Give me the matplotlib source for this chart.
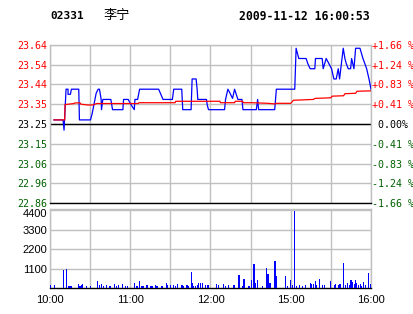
import matplotlib
matplotlib.use("Agg")
import matplotlib.pyplot as plt
from matplotlib.transforms import ScaledTranslation

CODE = "02331"
NAME = "李宁"
STAMP = "2009-11-12 16:00:53"

PREV_CLOSE = 23.25
pct_steps = [-1.66, -1.245, -0.83, -0.415, 0.0, 0.415, 0.83, 1.245, 1.66]
price_labels = ["22.86", "22.96", "23.06", "23.15", "23.25", "23.35", "23.44", "23.54", "23.64"]
pct_labels = ["-1.66 %", "-1.24 %", "-0.83 %", "-0.41 %", " 0.00%", "+0.41 %", "+0.83 %", "+1.24 %", "+1.66 %"]

# trading minutes from 10:00 (morning 10:00-12:30, afternoon 14:30-16:00)
time_ticks = [0, 60, 120, 180, 240]
time_labels = ["10:00", "11:00", "12:00", "15:00", "16:00"]

price_min = [3, 9.75, 10.5, 11.25, 12, 13.5, 13.5, 15.25, 16, 21.5, 22, 30.25, 31.5, 33, 34.5, 36, 37,
             38.25, 38.5, 39.5, 45.5, 46.75, 54.5, 55, 58.5, 60.5, 63, 63.5, 65.5, 67, 81.25, 84.5, 91.5,
             92.5, 98.5, 99.25, 105.5, 106.25, 109.25, 110, 110.5, 117, 117.5, 118.5, 130.5, 131.25, 133,
             134.25, 136.5, 138, 140.5, 143.5, 144.25, 154.25, 155.25, 156, 168, 169.25, 183, 184, 186,
             191.5, 192.75, 194.5, 198, 198.5, 203.5, 204.25, 206.5, 208.5, 210.5, 212.25, 214, 215.5,
             216.5, 219.25, 220.5, 221.5, 223, 224.75, 225.5, 227.25, 228.5, 231.75, 234, 236.75, 238.5, 240]
price_val = [23.27, 23.27, 23.22, 23.32, 23.42, 23.42, 23.395, 23.395, 23.42, 23.42, 23.27, 23.27, 23.30,
             23.35, 23.40, 23.42, 23.42, 23.37, 23.32, 23.37, 23.37, 23.32, 23.32, 23.37, 23.37, 23.345,
             23.32, 23.37, 23.37, 23.42, 23.42, 23.37, 23.37, 23.42, 23.42, 23.32, 23.32, 23.47, 23.47,
             23.42, 23.37, 23.37, 23.345, 23.32, 23.32, 23.37, 23.42, 23.405, 23.375, 23.42, 23.37, 23.37,
             23.32, 23.32, 23.37, 23.32, 23.32, 23.42, 23.42, 23.62, 23.57, 23.57, 23.545, 23.52, 23.52,
             23.57, 23.57, 23.52, 23.57, 23.545, 23.52, 23.47, 23.47, 23.52, 23.47, 23.62, 23.57, 23.545,
             23.52, 23.52, 23.57, 23.52, 23.62, 23.62, 23.57, 23.52, 23.47, 23.42]

avg_min = [3, 11, 11.25, 18, 18.5, 22.5, 23, 28, 32, 35, 66, 66.5, 93.5, 94, 127, 127.5, 138, 138.5, 144,
           144.5, 151, 163, 168.5, 169, 180, 182, 197, 198, 210, 211, 219.5, 220.5, 228.5, 229.5, 240]
avg_val = [23.27, 23.27, 23.345, 23.35, 23.353, 23.353, 23.347, 23.343, 23.343, 23.35, 23.35, 23.354,
           23.354, 23.361, 23.361, 23.354, 23.354, 23.361, 23.361, 23.354, 23.354, 23.351, 23.348, 23.351,
           23.351, 23.366, 23.37, 23.375, 23.378, 23.386, 23.388, 23.398, 23.40, 23.41, 23.412]

vol_min = [0, 3.25, 10, 12.5, 13.75, 15, 15.75, 21.25, 22.5, 23.75, 24.5, 27.5, 30, 35.5, 37, 38.75, 40,
           42.5, 44.25, 45.5, 48, 49.5, 51.25, 54.5, 56.25, 58, 63, 65, 66.75, 68.75, 70, 72.5, 75, 76.25,
           78.75, 80, 83.75, 87, 88, 90, 92.5, 93.75, 95.5, 98.75, 100, 102.5, 103.75, 105.5, 106.25,
           107.5, 108.75, 110, 111.25, 112.5, 113.75, 116.25, 117.5, 118.75, 124.25, 126.25, 130, 131.25,
           133.5, 137.5, 141.25, 143.75, 145, 148.75, 150.75, 152.5, 153.75, 155, 158.75, 162, 163, 164.5,
           168.25, 169.25, 176.25, 177.5, 180, 181.25, 183, 184.5, 186.25, 188.75, 191.25, 194.5, 195.5,
           197, 198.25, 199.5, 201.75, 203.75, 205.5, 210, 212.5, 213.75, 215.5, 216.75, 219.25, 220.75,
           222.5, 223.75, 225, 226.25, 227.5, 228.25, 229.25, 230.5, 232, 233, 234.5, 235.75, 238, 239.5, 240]
vol_val = [170, 170, 1030, 1080, 110, 110, 110, 230, 110, 170, 230, 110, 110, 400, 170, 230, 110,
           170, 110, 110, 230, 110, 170, 230, 110, 110, 270, 110, 400, 110, 110, 170, 110, 110,
           170, 110, 110, 300, 170, 170, 170, 110, 230, 170, 110, 170, 110, 910, 300,
           110, 110, 170, 270, 270, 300, 170, 170, 170, 230, 170, 230, 110,
           170, 170, 740, 110, 500, 110, 460, 1370, 300, 460, 110, 1120, 780, 300,
           1540, 680, 680, 110, 460, 170, 4330, 110, 170, 110, 170, 300, 230,
           230, 420, 170, 510, 170, 170, 400, 170, 230, 170, 230, 1440, 170,
           300, 170, 460, 360, 230, 460, 300, 170, 230, 110, 360, 170, 870, 170, 230]

RED = "#ff0000"
GREEN = "#006000"
GRID = "#c0c0c0"
MONO = "DejaVu Sans Mono"


def label_color(p):
    if p > 0:
        return RED
    if p < 0:
        return GREEN
    return "black"


def style_frame(ax):
    for side in ("left", "right", "top"):
        ax.spines[side].set_color(GRID)
        ax.spines[side].set_linewidth(1)
    ax.spines["bottom"].set_color("black")
    ax.spines["bottom"].set_linewidth(1)
    ax.set_xlim(0, 240)
    ax.set_xticks(range(0, 241, 30))
    ax.grid(True, color=GRID, linewidth=1)
    ax.set_axisbelow(True)
    ax.tick_params(length=0)


def main():
    fig = plt.figure(figsize=(4.14, 3.14), dpi=100)
    ax = fig.add_axes([50 / 414, 1 - 203 / 314, 321 / 414, 158 / 314])
    axv = fig.add_axes([50 / 414, 1 - 288 / 314, 321 / 414, 79 / 314])

    levels = [PREV_CLOSE * (1 + p / 100) for p in pct_steps]

    style_frame(ax)
    ax.set_ylim(levels[0], levels[-1])
    ax.set_yticks(levels)
    ax.set_yticklabels(price_labels, fontfamily=MONO, fontsize=7.2)
    ax.set_xticklabels([])
    for lab, p in zip(ax.get_yticklabels(), pct_steps):
        lab.set_color(label_color(p))
    ax.tick_params(axis="y", pad=2)
    ax.axhline(PREV_CLOSE, color="black", linewidth=1, zorder=2)

    ax.plot(price_min, price_val, color="#0000ff", linewidth=0.9, zorder=3)
    ax.plot(avg_min, avg_val, color=RED, linewidth=0.9, zorder=4)

    ax2 = ax.twinx()
    ax2.set_ylim(levels[0], levels[-1])
    ax2.set_yticks(levels)
    ax2.set_yticklabels(pct_labels, fontfamily=MONO, fontsize=7.2)
    for lab, p in zip(ax2.get_yticklabels(), pct_steps):
        lab.set_color(label_color(p))
    ax2.tick_params(length=0, pad=1)
    for s in ax2.spines.values():
        s.set_visible(False)

    style_frame(axv)
    axv.bar(vol_min, vol_val, width=0.9, color="#0000ff", linewidth=0, zorder=3)
    axv.set_ylim(0, 4470)
    axv.set_yticks([1100, 2200, 3300, 4400])
    axv.set_yticklabels(["1100", "2200", "3300", "4400"], fontfamily="Liberation Sans", fontsize=8)
    axv.tick_params(axis="y", pad=2)
    # top label sits a little below its gridline, as in the original
    axv.get_yticklabels()[-1].set_transform(
        axv.get_yticklabels()[-1].get_transform() + ScaledTranslation(0, -3 / 100, fig.dpi_scale_trans))

    grid_ticks = list(range(0, 241, 30))
    names = dict(zip(time_ticks, time_labels))
    axv.set_xticklabels([names.get(t, "") for t in grid_ticks], fontfamily="Liberation Sans", fontsize=8)
    axv.tick_params(axis="x", pad=5)

    fig.text(50 / 414, 1 - 16 / 314, CODE, fontfamily=MONO, fontweight="bold", fontsize=8, va="center")
    fig.text(104 / 414, 1 - 16 / 314, NAME, fontfamily=["Noto Sans CJK SC", "DejaVu Sans"],
             fontsize=9.5, va="center")
    fig.text(370 / 414, 1 - 16 / 314, STAMP, fontfamily=MONO, fontweight="bold", fontsize=8.3,
             va="center", ha="right")

    fig.savefig("out.png", dpi=100)
    plt.close(fig)


if __name__ == "__main__":
    main()
